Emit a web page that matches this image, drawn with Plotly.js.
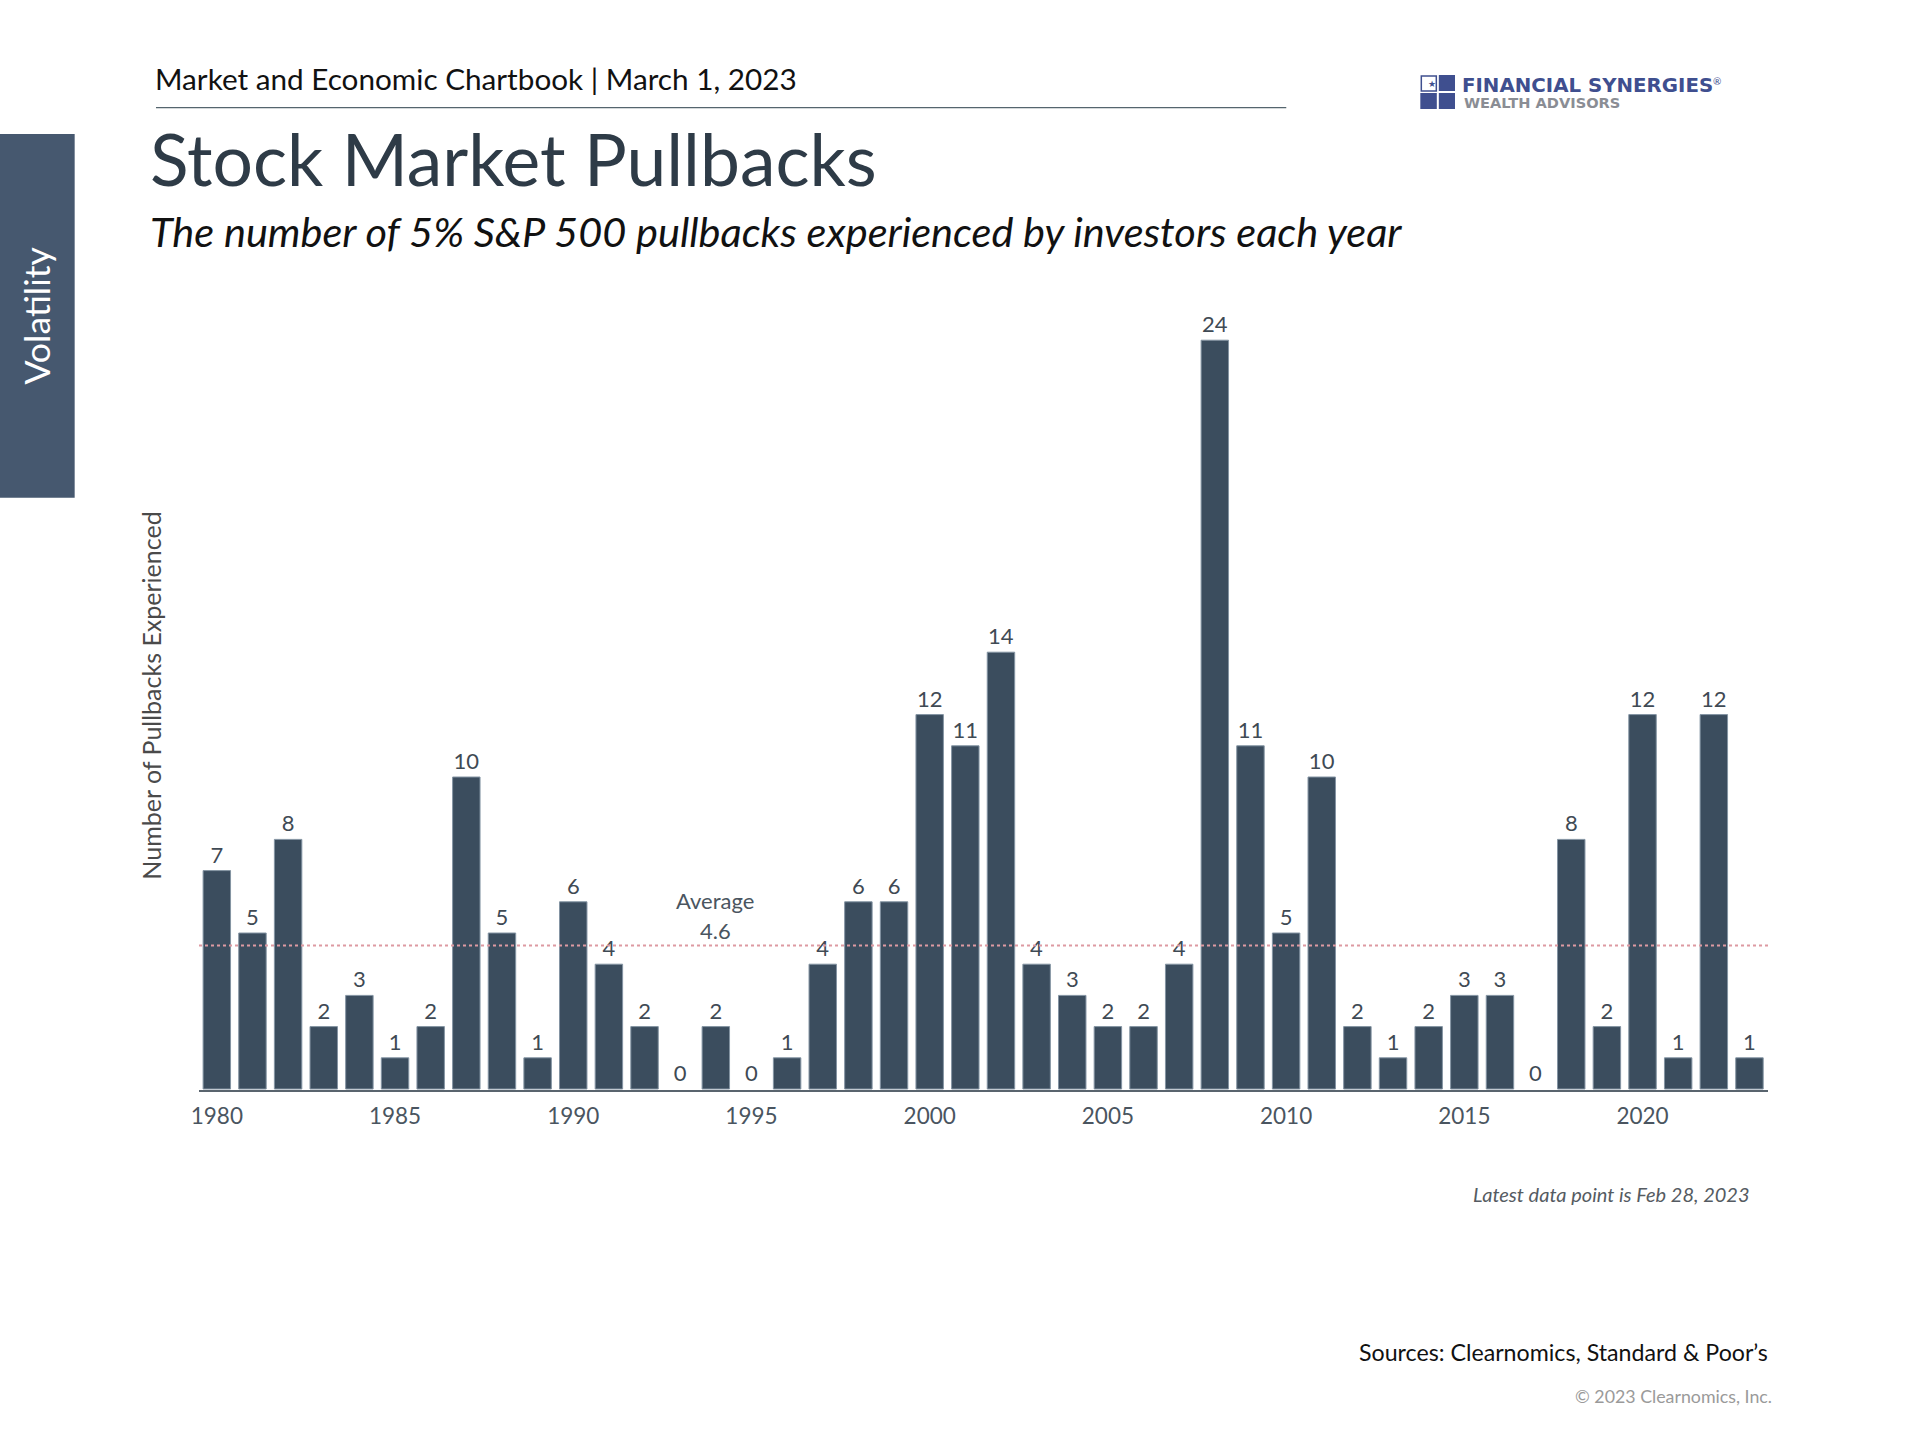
<!DOCTYPE html>
<html><head><meta charset="utf-8">
<script src="https://cdn.plot.ly/plotly-3.0.1.min.js"></script>
<style>html,body{margin:0;padding:0;background:#fff}#c{width:1920px;height:1440px}</style>
</head><body><div id="c"></div>
<script>
const years = [1980,1981,1982,1983,1984,1985,1986,1987,1988,1989,1990,1991,1992,1993,1994,1995,1996,1997,1998,1999,2000,2001,2002,2003,2004,2005,2006,2007,2008,2009,2010,2011,2012,2013,2014,2015,2016,2017,2018,2019,2020,2021,2022,2023];
const pullbacks = [7,5,8,2,3,1,2,10,5,1,6,4,2,0,2,0,1,4,6,6,12,11,14,4,3,2,2,4,24,11,5,10,2,1,2,3,3,0,8,2,12,1,12,1];
const average = 4.6;
const tickYears = [1980,1985,1990,1995,2000,2005,2010,2015,2020];

const W=1920,H=1440,L=199,T=301,PW=1568.6,PH=789;
const px=x=>(x-L)/PW, py=y=>1-(y-T)/PH;
const FONT='Lato', LOGO='DejaVu Sans';
function note(text,x,y,size,color,opt={}){
  return Object.assign({text,x:px(x),y:py(y),xref:'paper',yref:'paper',showarrow:false,
    xanchor:'left',yanchor:'middle',font:{family:opt.family||FONT,size,color,style:opt.style||'normal',weight:opt.weight||400}},opt.extra||{});
}
function box(x0,y0,x1,y1,fill,line){
  return {type:'rect',xref:'paper',yref:'paper',x0:px(x0),x1:px(x1),y0:py(y0),y1:py(y1),fillcolor:fill,
    line:line?{color:line,width:1.5}:{width:0},layer:'above'};
}
const trace={type:'bar',x:years,y:pullbacks,width:0.77,text:pullbacks.map(String),textposition:'outside',
  cliponaxis:false,textangle:0,constraintext:'none',
  textfont:{family:FONT,size:22,color:'#3f4a54'},
  marker:{color:'#3b4d5e',line:{width:pullbacks.map(v=>v?1:0),color:'#8494a3'}},hoverinfo:'x+y'};
const layout={
  width:W,height:H,paper_bgcolor:'#fff',plot_bgcolor:'#fff',showlegend:false,
  margin:{l:L,t:T,r:W-L-PW,b:H-T-PH,autoexpand:false},
  title:{text:'Stock Market Pullbacks',x:150/W,xref:'container',xanchor:'left',y:1-161/H,yanchor:'middle',
    font:{family:FONT,size:71.4,color:'#2e3b47'}},
  xaxis:{type:'linear',range:[1979.5,2023.52],tickvals:tickYears,ticktext:tickYears.map(String),ticks:'',showgrid:false,zeroline:false,
    showline:true,linecolor:'#59646e',linewidth:2,tickfont:{family:FONT,size:22.5,color:'#4a5560'},ticklabelstandoff:5},
  yaxis:{range:[-0.032,25.256],showgrid:false,zeroline:false,showticklabels:false,ticks:'',showline:false,
    title:{text:'Number of Pullbacks Experienced',standoff:29,font:{family:FONT,size:25,color:'#4a4a4a'}}},
  shapes:[
    {type:'line',xref:'paper',yref:'y',x0:0,x1:1,y0:average,y1:average,line:{color:'#dd9aa2',width:2,dash:'dot'},layer:'above'},
    {type:'line',xref:'paper',yref:'paper',x0:px(156),x1:px(1286),y0:py(107.7),y1:py(107.7),line:{color:'#55656e',width:1.2}},
    box(0,134,74.7,497.7,'#46586f'),
    box(1421,76,1436,91,'#ffffff','#3f4f8f'),
    box(1438.5,75,1454.7,91,'#3f4f8f'),
    box(1420,93,1436.5,109,'#3f4f8f'),
    box(1438.5,93,1454.7,109,'#3f4f8f')
  ],
  annotations:[
    note('Market and Economic Chartbook | March 1, 2023',153.5,78,29.7,'#111111'),
    note('The number of 5% S&P 500 pullbacks experienced by investors each year',148.5,231,41.5,'#111111',{style:'italic'}),
    note('Volatility',35.6,316,35.6,'#ffffff',{extra:{textangle:-90,xanchor:'center',yanchor:'middle'}}),
    note('★',1425.5,83.5,9,'#3f4f8f'),
    note('FINANCIAL SYNERGIES',1460,86,19.8,'#3f4f8f',{weight:700,family:LOGO}),
    note('®',1711,81,10,'#3f4f8f'),
    note('WEALTH ADVISORS',1462,102,14.6,'#8a8d94',{weight:700,family:LOGO}),
    note('Average',715,900,22,'#4a5560',{extra:{xanchor:'center'}}),
    note('4.6',715,930,22,'#4a5560',{extra:{xanchor:'center'}}),
    note('Latest data point is Feb 28, 2023',1751.7,1194,20,'#555b62',{style:'italic',extra:{xanchor:'right'}}),
    note('Sources: Clearnomics, Standard & Poor\u2019s',1770,1352,23.2,'#111111',{extra:{xanchor:'right'}}),
    note('\u00a9 2023 Clearnomics, Inc.',1773.7,1395.5,17.8,'#9a9a9a',{extra:{xanchor:'right'}})
  ]
};
Plotly.newPlot('c',[trace],layout,{displayModeBar:false,staticPlot:true});
</script></body></html>
